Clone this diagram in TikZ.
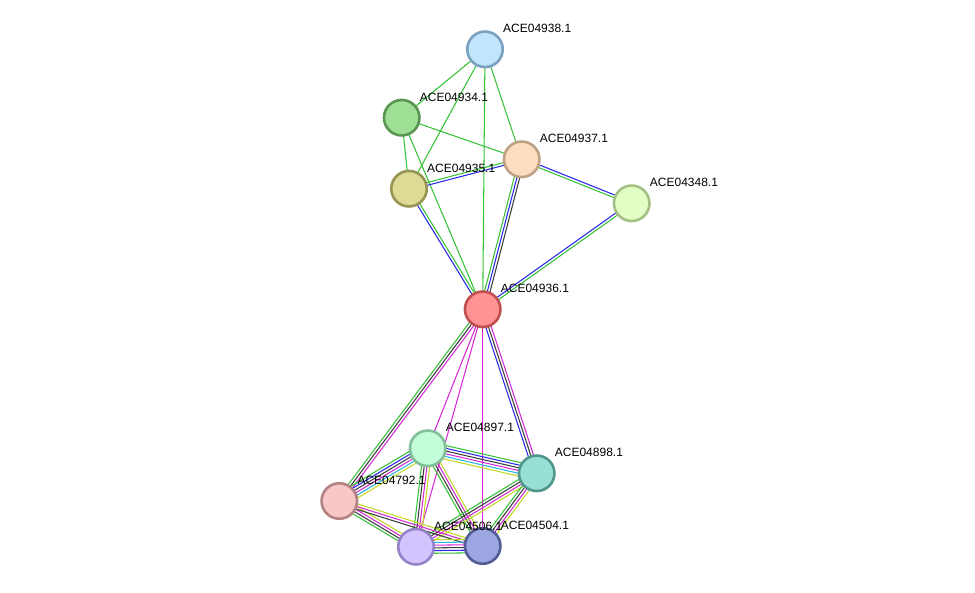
\documentclass[tikz,border=0pt]{standalone}
\usepackage{fontspec}
\setmainfont{Liberation Sans}
\usetikzlibrary{calc,backgrounds}
\definecolor{xg}{RGB}{52,194,52}
\definecolor{xb}{RGB}{40,40,235}
\definecolor{xk}{RGB}{60,60,60}
\definecolor{xm}{RGB}{214,40,214}
\definecolor{xc}{RGB}{40,180,225}
\definecolor{xy}{RGB}{195,215,35}
\definecolor{f4938}{RGB}{193,230,252}\definecolor{d4938}{RGB}{122,162,192}
\definecolor{f4934}{RGB}{160,224,150}\definecolor{d4934}{RGB}{90,150,82}
\definecolor{f4937}{RGB}{253,221,192}\definecolor{d4937}{RGB}{190,160,132}
\definecolor{f4935}{RGB}{222,219,150}\definecolor{d4935}{RGB}{150,150,82}
\definecolor{f4348}{RGB}{226,254,196}\definecolor{d4348}{RGB}{165,192,132}
\definecolor{f4936}{RGB}{255,146,146}\definecolor{d4936}{RGB}{192,80,80}
\definecolor{f4897}{RGB}{195,253,218}\definecolor{d4897}{RGB}{130,190,152}
\definecolor{f4898}{RGB}{152,224,214}\definecolor{d4898}{RGB}{80,150,140}
\definecolor{f4792}{RGB}{248,200,200}\definecolor{d4792}{RGB}{180,130,130}
\definecolor{f4506}{RGB}{212,196,254}\definecolor{d4506}{RGB}{150,130,200}
\definecolor{f4504}{RGB}{156,166,224}\definecolor{d4504}{RGB}{82,92,150}
\tikzset{
  prot/.style={circle, minimum size=35.5pt, inner sep=0pt, line width=2.6pt, fill=f#1, draw=d#1},
  plabel/.style={anchor=base west, inner sep=0pt, font=\fontsize{12pt}{14pt}\selectfont, text=black},
  eline/.style={line width=1.05pt}
}
\newcommand\sedge[4]{%
  \foreach \cc [count=\i] in {#4} {%
    \pgfmathsetmacro\off{(\i-(#3+1)/2)*2.7}%
    \draw[eline,draw=\cc] ($(#1.center)!\off pt!90:(#2.center)$) -- ($(#2.center)!\off pt!-90:(#1.center)$);
  }%
}
\begin{document}
\begin{tikzpicture}[x=1pt,y=-1pt]
\useasboundingbox (0,0) rectangle (975,593);
% nodes
\node[prot=4938] (n4938) at (485,49.3) {};
\node[prot=4934] (n4934) at (401.7,117.7) {};
\node[prot=4937] (n4937) at (521.7,159.3) {};
\node[prot=4935] (n4935) at (409,188.7) {};
\node[prot=4348] (n4348) at (631.7,203.3) {};
\node[prot=4936] (n4936) at (482.7,309.3) {};
\node[prot=4897] (n4897) at (427.7,448.3) {};
\node[prot=4898] (n4898) at (536.7,473.3) {};
\node[prot=4792] (n4792) at (339.3,501) {};
\node[prot=4506] (n4506) at (416,546.7) {};
\node[prot=4504] (n4504) at (482.7,546) {};
% labels
\node[plabel] (l4938) at ($(n4938.center)+(18,-16.5)$) {ACE04938.1};
\node[plabel] (l4934) at ($(n4934.center)+(18,-16.5)$) {ACE04934.1};
\node[plabel] (l4937) at ($(n4937.center)+(18,-16.5)$) {ACE04937.1};
\node[plabel] (l4935) at ($(n4935.center)+(18,-16.5)$) {ACE04935.1};
\node[plabel] (l4348) at ($(n4348.center)+(18,-16.5)$) {ACE04348.1};
\node[plabel] (l4936) at ($(n4936.center)+(18,-16.5)$) {ACE04936.1};
\node[plabel] (l4897) at ($(n4897.center)+(18,-16.5)$) {ACE04897.1};
\node[plabel] (l4898) at ($(n4898.center)+(18,-16.5)$) {ACE04898.1};
\node[plabel] (l4792) at ($(n4792.center)+(18,-16.5)$) {ACE04792.1};
\node[plabel] (l4506) at ($(n4506.center)+(18,-16.5)$) {ACE04506.1};
\node[plabel] (l4504) at ($(n4504.center)+(18,-16.5)$) {ACE04504.1};
\begin{pgfonlayer}{background}
\fill[white] (0,0) rectangle (975,593);
% top cluster
\sedge{n4938}{n4934}{1}{xg}
\sedge{n4938}{n4935}{1}{xg}
\sedge{n4938}{n4936}{1}{xg}
\sedge{n4938}{n4937}{1}{xg}
\sedge{n4934}{n4937}{1}{xg}
\sedge{n4934}{n4935}{1}{xg}
\sedge{n4934}{n4936}{1}{xg}
\sedge{n4935}{n4937}{2}{xb,xg}
\sedge{n4935}{n4936}{2}{xb,xg}
\sedge{n4937}{n4936}{3}{xg,xb,xk}
\sedge{n4937}{n4348}{2}{xg,xb}
\sedge{n4348}{n4936}{2}{xb,xg}
% hub to lower cluster
\sedge{n4936}{n4792}{3}{xg,xk,xm}
\sedge{n4936}{n4897}{1}{xm}
\sedge{n4936}{n4506}{1}{xm}
\sedge{n4936}{n4504}{1}{xm}
\sedge{n4936}{n4898}{3}{xb,xk,xm}
% lower cluster
\sedge{n4897}{n4898}{6}{xy,xc,xm,xk,xb,xg}
\sedge{n4897}{n4792}{6}{xg,xb,xk,xm,xc,xy}
\sedge{n4897}{n4506}{4}{xg,xk,xm,xy}
\sedge{n4897}{n4504}{4}{xg,xk,xm,xy}
\sedge{n4898}{n4506}{4}{xg,xk,xm,xy}
\sedge{n4898}{n4504}{4}{xg,xk,xm,xy}
\sedge{n4792}{n4506}{4}{xg,xk,xm,xy}
\sedge{n4792}{n4504}{3}{xk,xm,xy}
\sedge{n4506}{n4504}{6}{xg,xb,xk,xm,xc,xy}
\end{pgfonlayer}
\end{tikzpicture}
\end{document}
